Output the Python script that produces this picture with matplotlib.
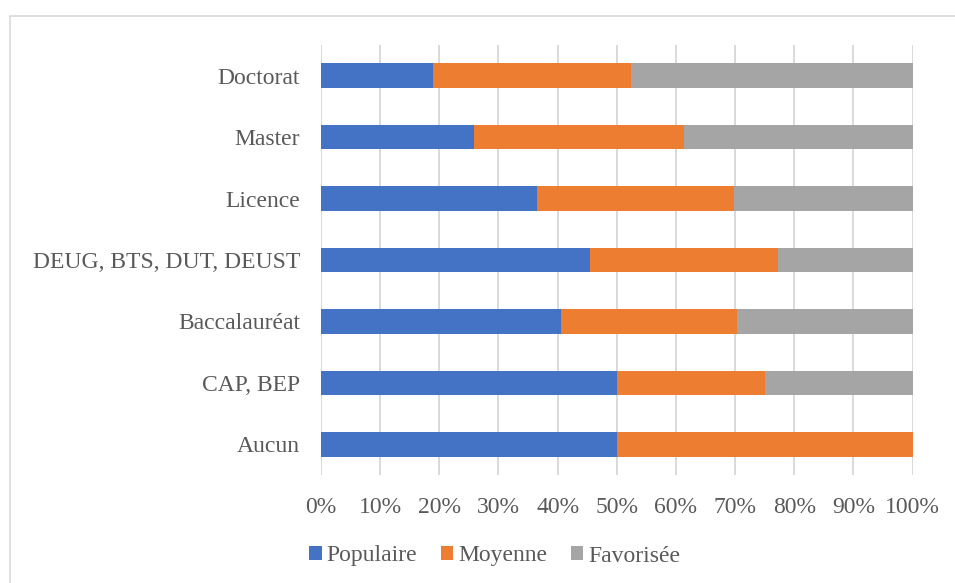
import matplotlib
matplotlib.use("Agg")
import numpy as np
from matplotlib import pyplot as plt
from matplotlib.patches import Rectangle
from matplotlib.ticker import PercentFormatter

plt.rcParams['font.family'] = ['Liberation Serif', 'DejaVu Serif']

categories = ["Aucun", "CAP, BEP", "Baccalauréat", "DEUG, BTS, DUT, DEUST",
              "Licence", "Master", "Doctorat"]
populaire = [50.0, 50.0, 40.5, 45.4, 36.5, 25.8, 19.0]
moyenne = [50.0, 25.0, 29.9, 31.9, 33.4, 35.5, 33.4]
favorisee = [0.0, 25.0, 29.6, 22.7, 30.1, 38.7, 47.6]
series_names = ["Populaire", "Moyenne", "Favorisée"]
colors = ["#4472C4", "#ED7D31", "#A5A5A5"]
txt = "#595959"
W, H = 955, 583

fig = plt.figure(figsize=(W / 100, H / 100), dpi=100)
ax = fig.add_axes([321 / W, 1 - 475 / H, (912.5 - 321) / W, (475 - 45) / H])

# bordure du graphique
fig.patches.append(Rectangle((9.5 / W, -0.1), 1.2, 1 - 16 / H + 0.1,
                             transform=fig.transFigure, fill=False,
                             edgecolor="#d9d9d9", linewidth=1.2))

y = np.arange(len(categories))
left = np.zeros(len(categories))
for vals, name, c in zip([populaire, moyenne, favorisee], series_names, colors):
    ax.barh(y, vals, left=left, height=0.4, color=c, label=name, zorder=3)
    left = left + np.array(vals)

ax.set_xlim(0, 100)
ax.set_ylim(-0.5, len(categories) - 0.5)
ax.set_xticks(np.arange(0, 101, 10))
ax.xaxis.set_major_formatter(PercentFormatter(decimals=0))
ax.set_yticks(y)
ax.set_yticklabels(categories)
ax.grid(axis="x", color="#d9d9d9", linewidth=1.4, zorder=0)
for s in ax.spines.values():
    s.set_visible(False)
ax.tick_params(axis="both", length=0, colors=txt, labelsize=17)
ax.tick_params(axis="y", pad=15)
ax.tick_params(axis="x", pad=16)

ax.legend(loc="center", bbox_to_anchor=(495 / W, 1 - 556 / H),
          bbox_transform=fig.transFigure, ncol=3, frameon=False,
          fontsize=17, labelcolor=txt, handlelength=0.52, handleheight=0.52,
          handletextpad=0.22, columnspacing=1.0)

fig.savefig("out.png", dpi=100)
